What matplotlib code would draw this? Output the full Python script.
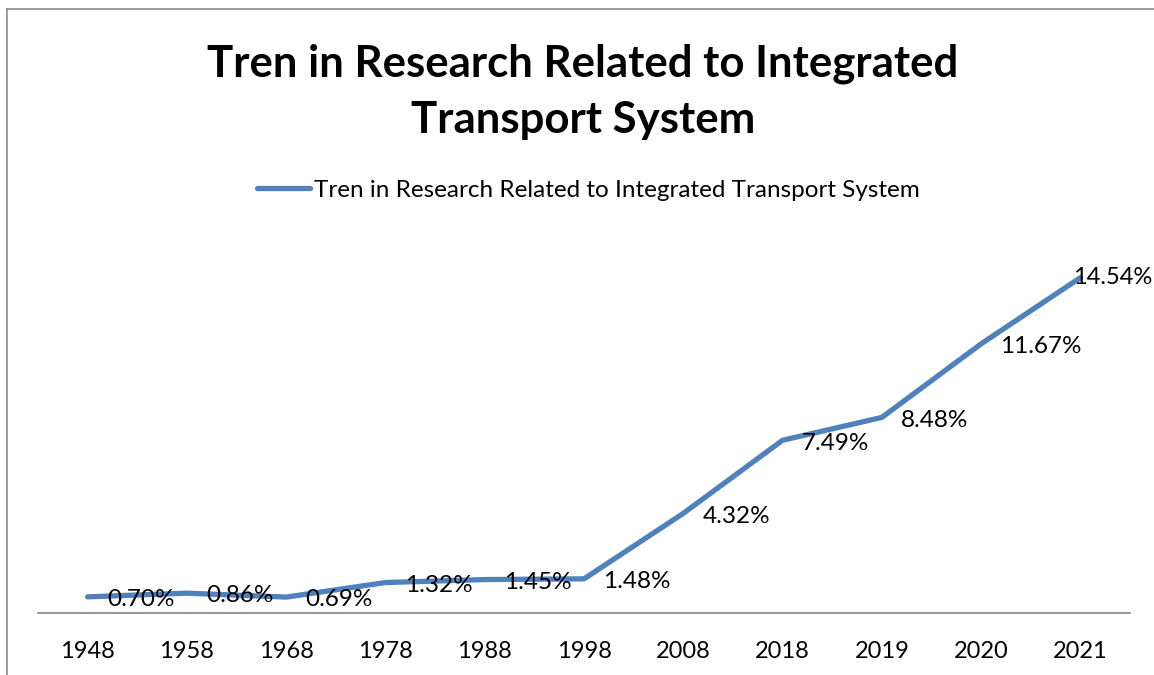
import matplotlib
matplotlib.use("Agg")
import matplotlib.pyplot as plt
from matplotlib.lines import Line2D

years = ["1948", "1958", "1968", "1978", "1988", "1998",
         "2008", "2018", "2019", "2020", "2021"]
share = [0.70, 0.86, 0.69, 1.32, 1.45, 1.48, 4.32, 7.49, 8.48, 11.67, 14.54]
series_name = "Tren in Research Related to Integrated Transport System"
title = "Tren in Research Related to Integrated\nTransport System"

plt.rcParams["font.family"] = ["Lato", "DejaVu Sans"]
blue = "#4F81BD"

fig = plt.figure(figsize=(11.54, 6.75), dpi=100)
ax = fig.add_axes([38 / 1154, 1 - 613 / 675, 1092 / 1154, 369 / 675])

x = range(len(years))
ax.plot(x, share, color=blue, lw=3.8, solid_capstyle="round",
        solid_joinstyle="round", label=series_name)
ax.set_xlim(-0.5, len(years) - 0.5)
ax.set_ylim(0, 16)

for i, v in enumerate(share):
    if i == len(share) - 1:
        # last label is pushed back inside the chart frame
        ax.annotate(f"{v:.2f}%", (i, v), xytext=(-5, 0), textcoords="offset points",
                    ha="left", va="center", fontsize=17)
    else:
        ax.annotate(f"{v:.2f}%", (i, v), xytext=(14, -2), textcoords="offset points",
                    ha="left", va="center", fontsize=17.5)

ax.set_xticks(list(x))
ax.set_xticklabels(years, fontsize=17)
ax.tick_params(axis="x", length=0, pad=20)
ax.set_yticks([])
for s in ["left", "right", "top"]:
    ax.spines[s].set_visible(False)
ax.spines["bottom"].set_color("#868686")
ax.spines["bottom"].set_linewidth(1.2)

fig.text(583 / 1154, 1 - 92 / 675, title, ha="center", va="center",
         fontsize=31.5, fontweight="bold", linespacing=1.5)

fig.legend(handles=[Line2D([], [], color=blue, lw=3.8, solid_capstyle="round")],
           labels=[series_name], loc="center", bbox_to_anchor=(588 / 1154, 1 - 190 / 675),
           frameon=False, fontsize=17.5, handlelength=2.2, handletextpad=0.15)

# chart border (partially cropped in the original)
fig.add_artist(Line2D([7 / 1154, 1], [1 - 9 / 675, 1 - 9 / 675], color="#8c8c8c", lw=1.2))
fig.add_artist(Line2D([7 / 1154, 7 / 1154], [0, 1 - 9 / 675], color="#8c8c8c", lw=1.2))

fig.savefig("out.png", dpi=100)
